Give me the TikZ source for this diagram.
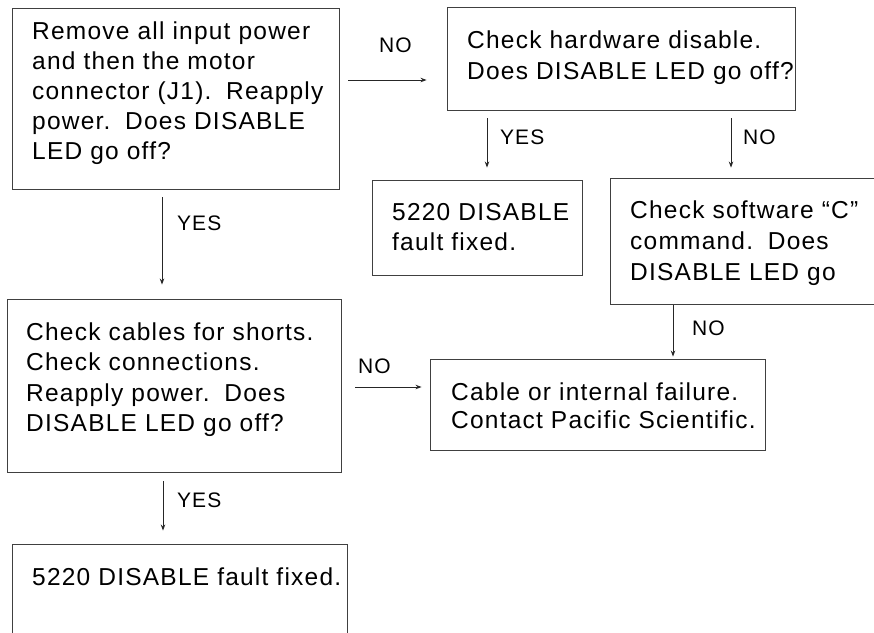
\documentclass[tikz,border=0pt]{standalone}
\usepackage{fontspec}
\setmainfont{Liberation Sans}[LetterSpace=5]
\usetikzlibrary{fit,arrows.meta}
\newcommand\dsp{\hspace{0.6em}}
\begin{document}
\begin{tikzpicture}[x=1pt,y=-1pt,
  box/.style={draw=black!75,line width=0.9pt,inner sep=0pt},
  txt/.style={anchor=base west,align=left,inner sep=0pt,text=black,
    font=\fontsize{24.5}{30.5}\selectfont},
  lbl/.style={anchor=base west,inner sep=0pt,text=black,
    font=\fontsize{21}{24}\selectfont},
  arr/.style={draw=black!85,line width=0.9pt,-{Stealth[length=6pt,width=4.5pt]}}]
\useasboundingbox (0,0) rectangle (874,632);
\clip (0,0) rectangle (874,632);
% boxes
\node[box,fit={(12,8)(339,189)}] (b1) {};
\node[box,fit={(447,7)(795,110)}] (b2) {};
\node[box,fit={(372,180)(582,275)}] (b3) {};
\node[box,fit={(610,178)(900,304)}] (b4) {};
\node[box,fit={(7,299)(341,472)}] (b5) {};
\node[box,fit={(430,359)(765,450)}] (b6) {};
\node[box,fit={(12,544)(347,660)}] (b7) {};
% texts (anchored at the baseline of the last line)
\node[txt,font=\fontsize{24.5}{30}\selectfont] (t1) at (32,159.5) {Remove all input power\\and then the motor\\connector (J1).\dsp Reapply\\power.\dsp Does DISABLE\\LED go off?};
\node[txt,font=\fontsize{24.5}{31}\selectfont] (t2) at (467,79.5) {Check hardware disable.\\Does DISABLE LED go off?};
\node[txt,font=\fontsize{24.5}{30}\selectfont] (t3) at (392,250) {5220 DISABLE\\fault fixed.};
\node[txt,font=\fontsize{24.5}{30.75}\selectfont] (t4) at (630,280) {Check software ``C''\\command.\dsp Does\\DISABLE LED go};
\node[txt,font=\fontsize{24.5}{30.5}\selectfont] (t5) at (26,431.5) {Check cables for shorts.\\Check connections.\\Reapply power.\dsp Does\\DISABLE LED go off?};
\node[txt,font=\fontsize{24.5}{28.5}\selectfont] (t6) at (451,428.5) {Cable or internal failure.\\Contact Pacific Scientific.};
\node[txt] (t7) at (32,585) {5220 DISABLE fault fixed.};
% connectors
\draw[arr,shorten <=9pt,shorten >=20pt] (b1.east |- 0,80) -- (b2.west |- 0,80);
\node[lbl] (l1) at (379,52) {NO};
\draw[arr,shorten <=8pt,shorten >=14pt] (b1.south -| 162,0) -- (b5.north -| 162,0);
\node[lbl] (l2) at (177,230) {YES};
\draw[arr,shorten <=8pt,shorten >=12pt] (b2.south -| 487,0) -- (b3.north -| 487,0);
\node[lbl] (l3) at (500,144) {YES};
\draw[arr,shorten <=8pt,shorten >=10pt] (b2.south -| 731,0) -- (b4.north -| 731,0);
\node[lbl] (l4) at (743,144) {NO};
\draw[arr,shorten <=1pt,shorten >=2pt] (b4.south -| 673,0) -- (b6.north -| 673,0);
\node[lbl] (l5) at (692,335) {NO};
\draw[arr,shorten <=14pt,shorten >=8pt] (b5.east |- 0,387) -- (b6.west |- 0,387);
\node[lbl] (l6) at (358,373) {NO};
\draw[arr,shorten <=9pt,shorten >=13pt] (b5.south -| 163,0) -- (b7.north -| 163,0);
\node[lbl] (l7) at (177,507) {YES};
\end{tikzpicture}
\end{document}
